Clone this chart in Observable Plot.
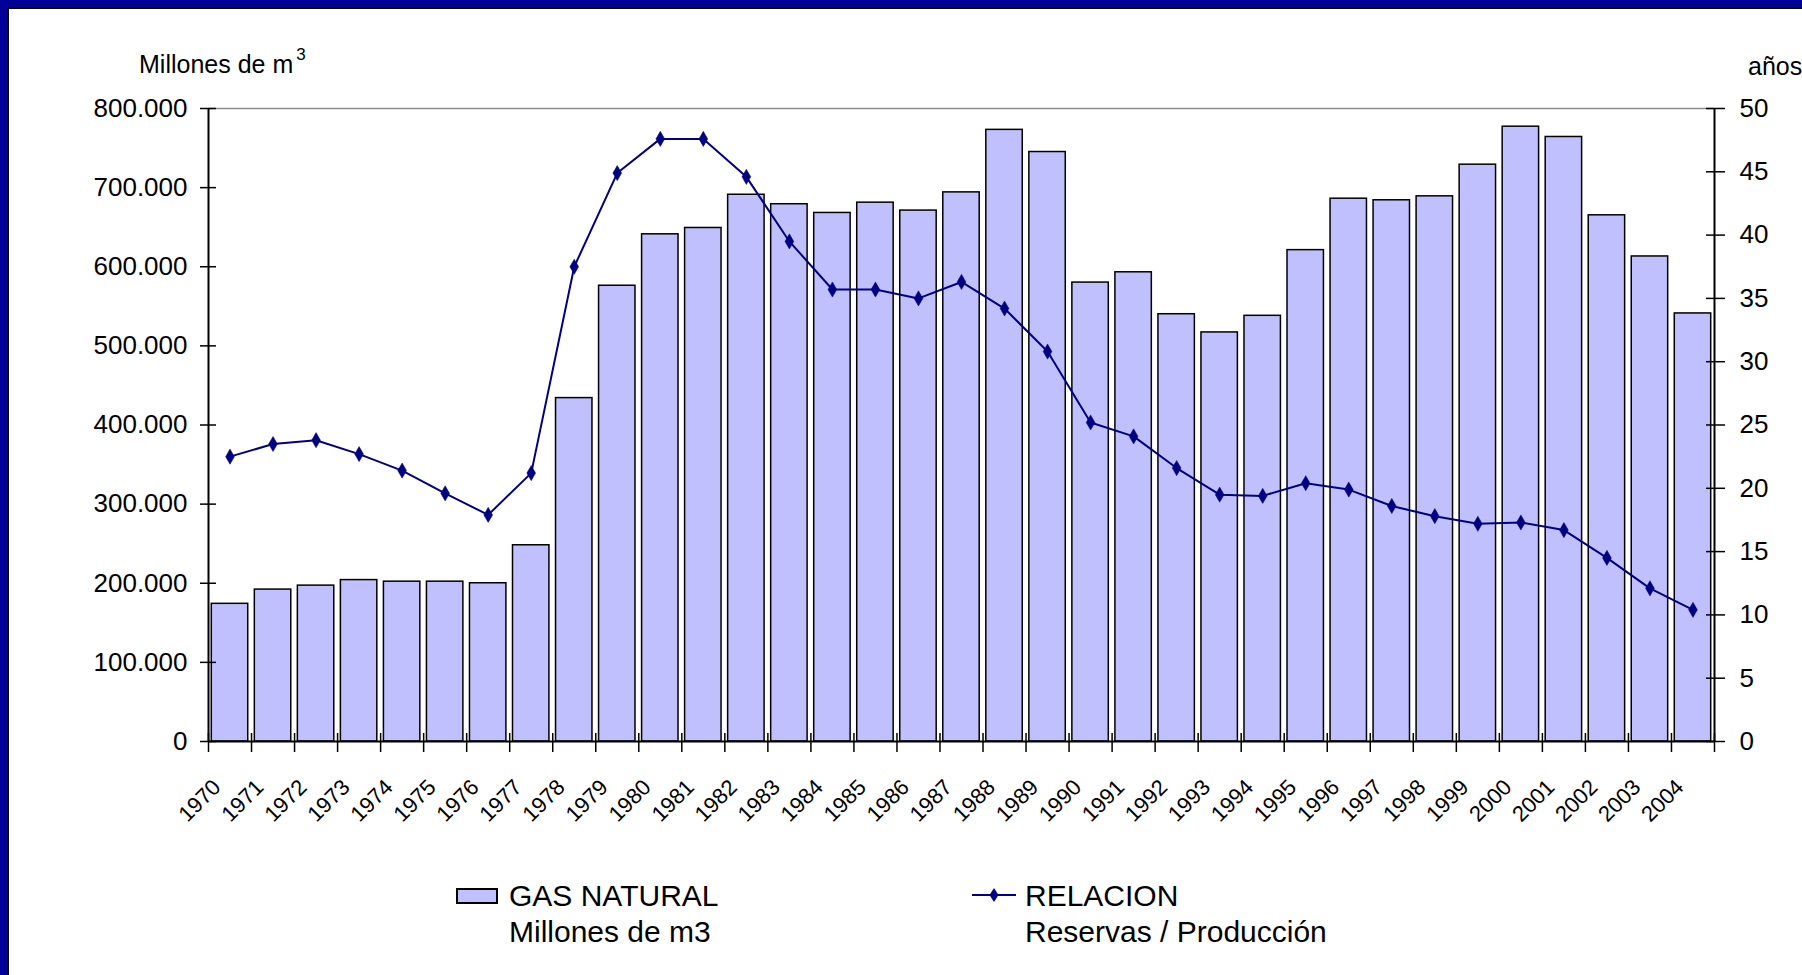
<!DOCTYPE html>
<html>
<head>
<meta charset="utf-8">
<script src="https://cdn.jsdelivr.net/npm/d3@7"></script>
<script src="https://cdn.jsdelivr.net/npm/@observablehq/plot@0.6"></script>
<style>
  html, body { margin: 0; padding: 0; width: 1802px; height: 975px; overflow: hidden; background: #000099; font-family: "Liberation Sans", Arial, sans-serif; }
  #page { position: absolute; left: 7px; top: 7px; right: 0; bottom: 0; background: #fff; border-left: 2px solid #000; border-top: 2px solid #000; }
  #chart { position: absolute; left: 0; top: 0; }
  .lbl { position: absolute; color: #000; white-space: nowrap; }
</style>
</head>
<body>
<div id="page"></div>
<div id="chart"></div>
<div class="lbl" style="left:139px; top:51.5px; font-size:25px; line-height:25px;">Millones de m<span style="font-size:17px; position:relative; top:-13px; margin-left:3px;">3</span></div>
<div class="lbl" style="left:1748px; top:54px; font-size:25px; line-height:25px;">años</div>
<div class="lbl" style="left:456px; top:888px; width:42px; height:16px; box-sizing:border-box; background:#C0C0FF; border:2px solid #000;"></div>
<div class="lbl" style="left:509px; top:877.6px; font-size:30px; line-height:36px;">GAS NATURAL<br>Millones de m3</div>
<svg class="lbl" style="left:968px; top:885px;" width="52" height="20">
  <line x1="4" y1="10" x2="48" y2="10" stroke="#000080" stroke-width="2"/>
  <path d="M26,3 L30.5,10 L26,17 L21.5,10 Z" fill="#000080"/>
</svg>
<div class="lbl" style="left:1025px; top:877.6px; font-size:30px; line-height:36px;">RELACION<br>Reservas / Producción</div>

<script>
// ---- Data ----
const years = [1970,1971,1972,1973,1974,1975,1976,1977,1978,1979,
               1980,1981,1982,1983,1984,1985,1986,1987,1988,1989,
               1990,1991,1992,1993,1994,1995,1996,1997,1998,1999,
               2000,2001,2002,2003,2004];
// GAS NATURAL (millones de m3)
const gasNatural = [174000,192000,197000,204000,202000,202000,200000,248000,434000,576000,
                    641000,649000,691000,679000,668000,681000,671000,694000,773000,745000,
                    580000,593000,540000,517000,538000,621000,686000,684000,689000,729000,
                    777000,764000,665000,613000,541000];
// RELACION Reservas / Producción (años)
const relacion = [22.5,23.5,23.8,22.7,21.4,19.6,17.9,21.2,37.5,44.9,
                  47.6,47.6,44.6,39.5,35.7,35.7,35.0,36.3,34.2,30.8,
                  25.2,24.1,21.6,19.5,19.4,20.4,19.9,18.6,17.8,17.2,
                  17.3,16.7,14.5,12.1,10.4];
// Axis ticks
const leftTicks = [0,100000,200000,300000,400000,500000,600000,700000,800000];
const rightTicks = [0,5,10,15,20,25,30,35,40,45,50];

// ---- Build table ----
const data = years.map((y, i) => ({year: y, gas: gasNatural[i], rel: relacion[i]}));
const leftMax = 800000, rightMax = 50;
const k = leftMax / rightMax; // maps right axis onto left scale
const bounds = [years[0] - 0.5, ...years.map(y => y + 0.5)];
const xMin = bounds[0], xMax = bounds[bounds.length - 1];
const fmtES = d => d3.format(",")(d).replace(/,/g, ".");

const W = 1802, H = 860;
const chart = Plot.plot({
  width: W,
  height: H,
  marginLeft: 208,
  marginRight: 88,
  marginTop: 108,
  marginBottom: H - 741,
  style: {background: "transparent", fontFamily: "'Liberation Sans', Arial, sans-serif", fontSize: "26px", color: "#000", overflow: "visible"},
  x: {type: "linear", domain: [xMin, xMax], axis: null},
  y: {domain: [0, leftMax]},
  marks: [
    // top gridline
    Plot.ruleY([leftMax], {stroke: "#8c8c8c", strokeWidth: 1.5}),
    // bars
    Plot.rectY(data, {x1: d => d.year - 0.5, x2: d => d.year + 0.5, y: "gas",
      fill: "#C0C0FF", stroke: "#000", strokeWidth: 1.5, insetLeft: 3.3, insetRight: 3.3}),
    // axis lines
    Plot.ruleX([xMin, xMax], {stroke: "#000", strokeWidth: 2}),
    Plot.ruleY([0], {stroke: "#000", strokeWidth: 2}),
    // x ticks at category boundaries (crossing)
    Plot.ruleX(bounds, {x: d => d, y1: () => 0, y2: () => 0, insetTop: -8, insetBottom: -11, stroke: "#000", strokeWidth: 1.5}),
    // left ticks (crossing)
    Plot.ruleY(leftTicks, {y: d => d, x1: () => xMin, x2: () => xMin, insetLeft: -8, insetRight: -8, stroke: "#000", strokeWidth: 1.5}),
    // right ticks (crossing)
    Plot.ruleY(rightTicks, {y: d => d * k, x1: () => xMax, x2: () => xMax, insetLeft: -8, insetRight: -11, stroke: "#000", strokeWidth: 1.5}),
    // axis labels
    Plot.axisY({ticks: leftTicks, tickFormat: fmtES, tickSize: 0, tickPadding: 21, label: null, fontSize: 26}),
    Plot.axisY(rightTicks.map(v => v * k), {anchor: "right", tickFormat: d => String(d / k), tickSize: 0, tickPadding: 25, label: null, fontSize: 26}),
    // year labels
    Plot.text(data, {x: "year", y: () => 0, text: d => String(d.year), rotate: -45, textAnchor: "end",
      dx: -13, dy: 42, fontSize: 22, fill: "#000"}),
    // line
    Plot.line(data, {x: "year", y: d => d.rel * k, stroke: "#000080", strokeWidth: 2}),
    Plot.dot(data, {x: "year", y: d => d.rel * k, symbol: "diamond", r: 4.6, fill: "#000080", stroke: "#000080", strokeWidth: 0.5})
  ]
});
document.getElementById("chart").appendChild(chart);
</script>
</body>
</html>
